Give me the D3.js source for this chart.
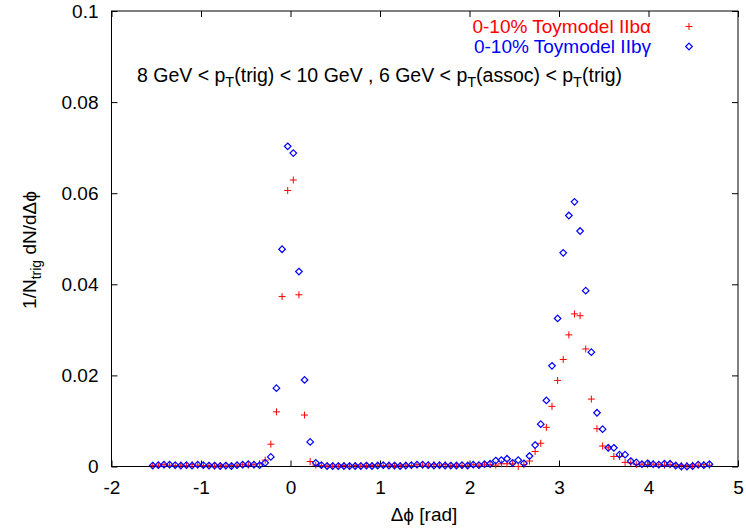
<!DOCTYPE html>
<html>
<head>
<meta charset="utf-8">
<script src="https://cdn.jsdelivr.net/npm/d3@7"></script>
<style>
  html, body { margin: 0; padding: 0; background: #fff; }
  svg { display: block; font-family: "Liberation Sans", Arial, sans-serif; }
</style>
</head>
<body>
<svg id="chart" width="746" height="529"></svg>
<script>
// Azimuthal correlation, 100 bins covering [-pi/2, 3pi/2]
const nBins = 100;
const binCenters = d3.range(nBins).map(i => -Math.PI / 2 + (i + 0.5) * (2 * Math.PI / nBins));

const xTicks = [-2, -1, 0, 1, 2, 3, 4, 5];
const yTicks = [0, 0.02, 0.04, 0.06, 0.08, 0.1];

// 0-10% Toymodel IIb alpha
const alphaValues = [
  0.0002, 0.0003, 0.0004, 0.0003, 0.0002, 0.0003, 0.0002, 0.0004, 0.0003, 0.0002,
  0.0002, 0.0001, 0.0002, 0.0001, 0.0002, 0.0003, 0.0004, 0.0003, 0.0004, 0.0006,
  0.0014, 0.0049, 0.0120, 0.0373, 0.0606, 0.0629, 0.0377, 0.0113, 0.0011, 0.0003,
  0.0002, 0.0001, 0.0001, 0.0001, 0.0002, 0.0001, 0.0002, 0.0001, 0.0002, 0.0002,
  0.0003, 0.0002, 0.0003, 0.0002, 0.0002, 0.0003, 0.0002, 0.0004, 0.0003, 0.0003,
  0.0004, 0.0003, 0.0004, 0.0002, 0.0003, 0.0002, 0.0003, 0.0004, 0.0003, 0.0005,
  0.0004, 0.0003, 0.0006, 0.0006, 0.0006, 0.0000, 0.0004, 0.0012, 0.0033, 0.0051,
  0.0086, 0.0132, 0.0189, 0.0235, 0.0289, 0.0335, 0.0331, 0.0258, 0.0148, 0.0083,
  0.0045, 0.0041, 0.0022, 0.0022, 0.0009, 0.0008, 0.0004, 0.0005, 0.0004, 0.0005,
  0.0004, 0.0003, 0.0004, 0.0003, 0.0002, 0.0002, 0.0003, 0.0003, 0.0004, 0.0003
];

// 0-10% Toymodel IIb gamma
const gammaValues = [
  0.0002, 0.0003, 0.0004, 0.0004, 0.0003, 0.0002, 0.0003, 0.0002, 0.0004, 0.0003,
  0.0002, 0.0002, 0.0001, 0.0002, 0.0001, 0.0003, 0.0004, 0.0005, 0.0004, 0.0003,
  0.0008, 0.0021, 0.0172, 0.0477, 0.0703, 0.0688, 0.0428, 0.0190, 0.0054, 0.0008,
  0.0003, 0.0001, 0.0001, 0.0001, 0.0001, 0.0001, 0.0001, 0.0001, 0.0002, 0.0001,
  0.0002, 0.0003, 0.0002, 0.0002, 0.0001, 0.0002, 0.0003, 0.0004, 0.0004, 0.0003,
  0.0002, 0.0003, 0.0002, 0.0002, 0.0002, 0.0003, 0.0002, 0.0004, 0.0003, 0.0005,
  0.0006, 0.0013, 0.0014, 0.0017, 0.0008, 0.0014, 0.0007, 0.0023, 0.0047, 0.0093,
  0.0145, 0.0221, 0.0325, 0.0469, 0.0551, 0.0581, 0.0517, 0.0386, 0.0251, 0.0118,
  0.0082, 0.0041, 0.0041, 0.0026, 0.0026, 0.0012, 0.0009, 0.0005, 0.0007, 0.0005,
  0.0004, 0.0006, 0.0006, 0.0002, 0.0000, 0.0000, 0.0001, 0.0004, 0.0003, 0.0005
];

const seriesNames = ["0-10% Toymodel IIb\u03B1", "0-10% Toymodel IIb\u03B3"];
const seriesColors = ["#ff0000", "#0000ff"];

const margin = { left: 111.5, right: 738, top: 11, bottom: 466.5 };
const svg = d3.select("#chart");

const x = d3.scaleLinear().domain([-2, 5]).range([margin.left, margin.right]);
const y = d3.scaleLinear().domain([0, 0.1]).range([margin.bottom, margin.top]);

const fmtX = v => String(v);           // plain hyphen for negatives
const fmtY = v => v === 0 ? "0" : d3.format(".2~f")(v);

// Axes with inward ticks, mirrored on top and right
const gx = svg.append("g").attr("transform", `translate(0,${margin.bottom})`)
  .call(d3.axisBottom(x).tickValues(xTicks).tickSizeInner(-6).tickSizeOuter(0).tickPadding(14).tickFormat(fmtX));
const gy = svg.append("g").attr("transform", `translate(${margin.left},0)`)
  .call(d3.axisLeft(y).tickValues(yTicks).tickSizeInner(-6).tickSizeOuter(0).tickPadding(13).tickFormat(fmtY));
const gt = svg.append("g").attr("transform", `translate(0,${margin.top})`)
  .call(d3.axisTop(x).tickValues(xTicks).tickSizeInner(-6).tickSizeOuter(0).tickFormat(""));
const gr = svg.append("g").attr("transform", `translate(${margin.right},0)`)
  .call(d3.axisRight(y).tickValues(yTicks).tickSizeInner(-6).tickSizeOuter(0).tickFormat(""));

[gx, gy, gt, gr].forEach(g => {
  g.select(".domain").remove();
  g.selectAll(".tick line").attr("stroke", "#000").attr("stroke-width", 1);
  g.selectAll("text").attr("font-size", 19).attr("fill", "#000")
    .attr("font-family", "'Liberation Sans', Arial, sans-serif");
});

// Plot frame
svg.append("rect")
  .attr("x", margin.left).attr("y", margin.top)
  .attr("width", margin.right - margin.left).attr("height", margin.bottom - margin.top)
  .attr("fill", "none").attr("stroke", "#000").attr("stroke-width", 1);

// Axis titles
svg.append("text")
  .attr("x", 424).attr("y", 521).attr("text-anchor", "middle")
  .attr("font-size", 19).text("\u0394\u03D5 [rad]");

const yTitle = svg.append("text")
  .attr("transform", "translate(36,250) rotate(-90)")
  .attr("text-anchor", "middle").attr("font-size", 19);
yTitle.append("tspan").text("1/N");
yTitle.append("tspan").attr("dy", 5).attr("font-size", 14).text("trig");
yTitle.append("tspan").attr("dy", -5).text(" dN/d\u0394\u03D5");

// Kinematic cuts annotation
const ann = svg.append("text").attr("x", 137).attr("y", 82).attr("font-size", 19.5);
const annParts = [
  ["8 GeV < p", false], ["T", true], ["(trig) < 10 GeV , 6 GeV < p", false],
  ["T", true], ["(assoc) < p", false], ["T", true], ["(trig)", false]
];
let shifted = false;
annParts.forEach(([t, sub]) => {
  const ts = ann.append("tspan").text(t);
  if (sub && !shifted) { ts.attr("dy", 5).attr("font-size", 14.5); shifted = true; }
  else if (!sub && shifted) { ts.attr("dy", -5); shifted = false; }
  else if (sub) ts.attr("font-size", 14.5);
});

// Markers
const crossPath = s => `M${-s},0H${s}M0,${-s}V${s}`;
const diamondPath = s => `M0,${-s}L${s},0L0,${s}L${-s},0Z`;

const alphaData = binCenters.map((c, i) => ({ x: c, y: alphaValues[i] }));
const gammaData = binCenters.map((c, i) => ({ x: c, y: gammaValues[i] }));

svg.append("g").selectAll("path").data(alphaData).join("path")
  .attr("transform", d => `translate(${x(d.x)},${y(d.y)})`)
  .attr("d", crossPath(3.5))
  .attr("fill", "none").attr("stroke", seriesColors[0]).attr("stroke-width", 1);

svg.append("g").selectAll("path").data(gammaData).join("path")
  .attr("transform", d => `translate(${x(d.x)},${y(d.y)})`)
  .attr("d", diamondPath(3.3))
  .attr("fill", "none").attr("stroke", seriesColors[1]).attr("stroke-width", 1.2);

// Legend
const legend = svg.append("g");
seriesNames.forEach((name, i) => {
  const ly = 33 + i * 20;
  legend.append("text")
    .attr("x", 651).attr("y", ly).attr("text-anchor", "end")
    .attr("font-size", 19).attr("fill", seriesColors[i]).text(name);
  legend.append("path")
    .attr("transform", `translate(689,${ly - 6.5})`)
    .attr("d", i === 0 ? crossPath(3.5) : diamondPath(3.3))
    .attr("fill", "none").attr("stroke", seriesColors[i]).attr("stroke-width", i === 0 ? 1 : 1.2);
});
</script>
</body>
</html>
